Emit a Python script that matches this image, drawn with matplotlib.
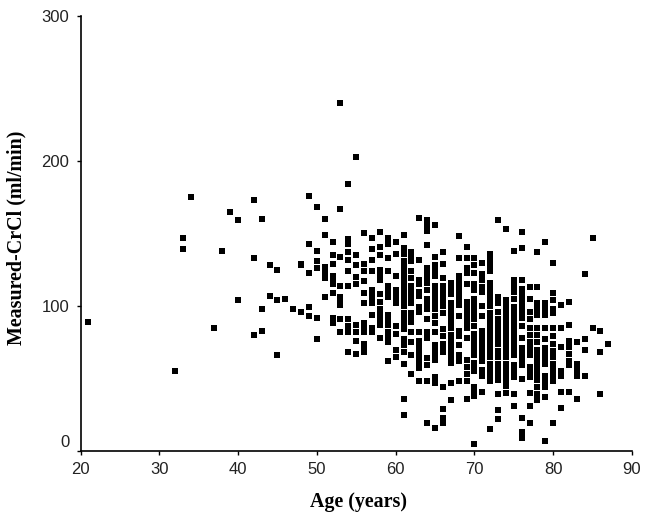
import matplotlib
matplotlib.use('Agg')
import matplotlib.pyplot as plt
from matplotlib.transforms import ScaledTranslation

# patients under 50, read one by one
young_age = [21, 32, 33, 33, 34, 37, 38, 39, 40, 40, 42, 42, 42, 43, 43, 43, 44, 44, 45, 45, 45, 46, 47, 48, 48, 48, 49, 49, 49, 49, 49]
young_crcl = [89, 55, 147, 139, 175, 85, 138, 165, 159, 104, 173, 133, 80, 160, 98, 83, 128, 107, 125, 104, 66, 105, 98, 128, 129, 96, 176, 143, 123, 99, 93]

# one list per year of age
crcl_50 = [168, 138, 131, 126, 92, 77]
crcl_51 = [160, 149, 127, 123, 119, 106]
crcl_52 = [144, 135, 129, 121, 118, 115, 109, 92, 88]
crcl_53 = [240, 167, 134, 114, 106, 103, 101, 91, 82]
crcl_54 = [184, 146, 143, 137, 132, 124, 114, 91, 86, 82, 68]
crcl_55 = [203, 135, 128, 120, 115, 87, 82, 76, 67]
crcl_56 = [150, 129, 124, 117, 109, 102, 88, 85, 82, 74, 70, 68]
crcl_57 = [147, 139, 132, 124, 111, 108, 105, 102, 94, 85, 82]
crcl_58 = [151, 141, 135, 125, 121, 118, 108, 103, 98, 95, 91, 87, 78]
crcl_59 = [147, 143, 133, 124, 114, 110, 106, 94, 90, 87, 82, 79, 75, 62]
crcl_60 = [144, 136, 121, 111, 107, 104, 102, 86, 81, 70, 65]
crcl_61 = [149, 140, 136, 131, 128, 125, 121, 118, 114, 111, 107, 104, 100, 95, 91, 88, 84, 77, 73, 68, 60, 36, 25]
crcl_62 = [137, 135, 131, 124, 119, 114, 110, 107, 104, 102, 95, 91, 89, 82, 75, 66, 53]
crcl_63 = [161, 132, 118, 115, 110, 107, 99, 96, 82, 76, 72, 69, 66, 62, 60, 57, 48]
crcl_64 = [159, 155, 152, 142, 126, 122, 119, 116, 111, 105, 102, 98, 91, 82, 78, 64, 59, 48, 19]
crcl_65 = [156, 134, 128, 124, 121, 114, 110, 106, 103, 100, 98, 93, 88, 82, 73, 70, 67, 63, 51, 47, 16]
crcl_66 = [137, 129, 119, 114, 110, 107, 103, 100, 95, 84, 79, 74, 71, 68, 44, 29, 23, 19]
crcl_67 = [116, 112, 108, 102, 98, 95, 91, 88, 85, 80, 78, 75, 72, 69, 65, 61, 47, 35]
crcl_68 = [148, 133, 121, 117, 114, 111, 107, 104, 101, 93, 83, 79, 73, 66, 62, 48]
crcl_69 = [141, 133, 126, 123, 115, 103, 99, 95, 93, 89, 85, 78, 63, 58, 53, 48, 36]
crcl_70 = [133, 128, 123, 115, 111, 105, 101, 98, 95, 91, 86, 81, 77, 74, 72, 70, 66, 61, 57, 55, 44, 40, 38, 5]
crcl_71 = [130, 122, 118, 113, 110, 100, 93, 83, 80, 76, 73, 70, 66, 62, 56, 52, 41]
crcl_72 = [136, 132, 128, 124, 116, 113, 110, 106, 103, 100, 95, 91, 88, 85, 82, 78, 75, 72, 68, 65, 60, 56, 52, 48, 15]
crcl_73 = [159, 106, 102, 96, 91, 87, 85, 81, 78, 74, 69, 65, 60, 56, 52, 49, 39, 28, 22]
crcl_74 = [153, 104, 101, 97, 94, 91, 87, 84, 80, 77, 74, 71, 68, 65, 60, 56, 52, 49, 45, 40]
crcl_75 = [138, 118, 114, 110, 105, 99, 96, 92, 89, 85, 82, 79, 75, 72, 69, 66, 59, 55, 51, 39, 31]
crcl_76 = [151, 140, 118, 112, 108, 106, 102, 99, 95, 92, 86, 78, 71, 68, 65, 62, 59, 50, 23, 13, 9]
crcl_77 = [113, 105, 96, 91, 85, 80, 75, 71, 68, 66, 58, 54, 51, 40, 31, 19]
crcl_78 = [137, 113, 102, 98, 94, 85, 80, 75, 70, 66, 62, 58, 54, 52, 49, 44, 39, 35]
crcl_79 = [144, 102, 98, 94, 85, 77, 71, 67, 63, 60, 52, 48, 44, 37, 7]
crcl_80 = [130, 109, 104, 98, 95, 85, 79, 74, 69, 65, 60, 56, 52, 48, 19]
crcl_81 = [101, 85, 72, 55, 52, 41, 30]
crcl_82 = [103, 87, 76, 72, 67, 62, 59, 41]
crcl_83 = [75, 60, 56, 52, 36]
crcl_84 = [122, 77, 70, 52]
crcl_85 = [147, 85]
crcl_86 = [83, 68, 39]
crcl_87 = [74]

by_age = [crcl_50, crcl_51, crcl_52, crcl_53, crcl_54, crcl_55, crcl_56, crcl_57, crcl_58, crcl_59,
          crcl_60, crcl_61, crcl_62, crcl_63, crcl_64, crcl_65, crcl_66, crcl_67, crcl_68, crcl_69,
          crcl_70, crcl_71, crcl_72, crcl_73, crcl_74, crcl_75, crcl_76, crcl_77, crcl_78, crcl_79,
          crcl_80, crcl_81, crcl_82, crcl_83, crcl_84, crcl_85, crcl_86, crcl_87]

x_ticks = [20, 30, 40, 50, 60, 70, 80, 90]
y_ticks = [0, 100, 200, 300]

x = list(young_age)
y = list(young_crcl)
for i, vals in enumerate(by_age):
    x += [50 + i] * len(vals)
    y += vals

fig = plt.figure(figsize=(6.46, 5.22), dpi=100)
ax = fig.add_axes([80.5 / 646, 1 - 451 / 522, (632 - 80.5) / 646, (451 - 16) / 522])
ax.scatter(x, y, marker='s', s=13, c='black', linewidths=0, clip_on=False)

ax.set_xlim(20, 90)
ax.set_ylim(0, 300)
ax.set_xticks(x_ticks)
ax.set_yticks(y_ticks)
ax.spines['top'].set_visible(False)
ax.spines['right'].set_visible(False)
ax.spines['left'].set_linewidth(1.2)
ax.spines['bottom'].set_linewidth(1.2)
ax.tick_params(length=3, width=1.0, labelsize=12, labelcolor='#222222', pad=5)
for lab in ax.get_xticklabels() + ax.get_yticklabels():
    lab.set_family('Liberation Sans')

# the 0 label sits above the axis line in the original
zero = ax.get_yticklabels()[0]
zero.set_transform(zero.get_transform() + ScaledTranslation(0, 10 / 100, fig.dpi_scale_trans))

fig.text(16 / 646, 1 - 238 / 522, 'Measured-CrCl (ml/min)', rotation=90, ha='center', va='center',
         family='Liberation Serif', weight='bold', fontsize=14.4)
fig.text(358 / 646, 1 - 502 / 522, 'Age (years)', ha='center', va='center',
         family='Liberation Serif', weight='bold', fontsize=14.4)

fig.savefig('out.png', dpi=100)
